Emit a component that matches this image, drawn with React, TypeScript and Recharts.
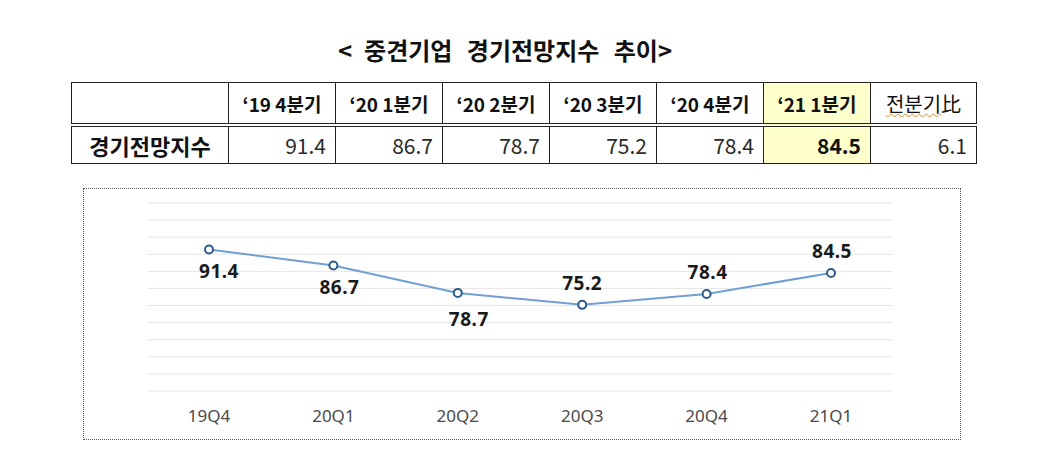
import { LineChart, Line, XAxis, YAxis, CartesianGrid } from 'recharts'

const quarters = ['19Q4', '20Q1', '20Q2', '20Q3', '20Q4', '21Q1']
const headerLabels = ['‘19 4분기', '‘20 1분기', '‘20 2분기', '‘20 3분기', '‘20 4분기', '‘21 1분기']
const indexValues = [91.4, 86.7, 78.7, 75.2, 78.4, 84.5]
const qoqChange = '6.1'
const yTicks = [50, 55, 60, 65, 70, 75, 80, 85, 90, 95, 100, 105]

const data = quarters.map((q, i) => ({ quarter: q, value: indexValues[i] }))

const font = '"Noto Sans CJK KR", "Noto Sans", sans-serif'
const numFont = '"Noto Sans", "Noto Sans CJK KR", sans-serif'
const border = '1px solid #222'

// label nudges (below for the first three points, above for the rest)
const labelDx = [10, 6, 11, 0, 1, 1]
const labelDy = [29, 28, 33, -15, -15, -15]

const renderLabel = (props: any) => {
  const { x, y, value, index } = props
  return (
    <text
      x={x + labelDx[index]}
      y={y + labelDy[index]}
      textAnchor="middle"
      fontFamily={numFont}
      fontSize={19}
      fontWeight={700}
      fill="#1a1a1a"
      letterSpacing={0.5}
    >
      {value}
    </text>
  )
}

const headCell = {
  border,
  height: 40,
  fontSize: 19,
  fontWeight: 700,
  textAlign: 'center' as const,
  padding: 0,
  color: '#111',
}

const dataCell = {
  border,
  height: 36,
  fontSize: 21,
  textAlign: 'right' as const,
  padding: '0 9px 0 0',
  color: '#2a2a2a',
}

export default function App() {
  const last = headerLabels.length - 1
  return (
    <div
      style={{
        position: 'absolute',
        left: 0,
        top: 0,
        width: 1062,
        height: 458,
        background: '#fff',
        fontFamily: font,
      }}
    >
      <div
        style={{
          position: 'absolute',
          left: 255,
          width: 500,
          top: 33,
          textAlign: 'center',
          fontSize: 24,
          fontWeight: 700,
          color: '#111',
          whiteSpace: 'pre',
          lineHeight: '34px',
        }}
      >
        <span style={{ marginRight: 12 }}>{'<'}</span>
        <span style={{ wordSpacing: 9 }}>{'중견기업 경기전망지수 추이>'}</span>
      </div>

      <table
        style={{
          position: 'absolute',
          left: 71,
          top: 82,
          width: 906,
          borderCollapse: 'collapse',
          tableLayout: 'fixed',
          fontFamily: font,
        }}
      >
        <colgroup>
          <col style={{ width: 157 }} />
          {headerLabels.map((h) => (
            <col key={h} style={{ width: 107 }} />
          ))}
          <col style={{ width: 106 }} />
        </colgroup>
        <tbody>
          <tr style={{ borderBottom: '4px double #222' }}>
            <td style={headCell}></td>
            {headerLabels.map((h, i) => (
              <td key={h} style={{ ...headCell, background: i === last ? '#ffffcc' : '#fff' }}>
                {h}
              </td>
            ))}
            <td style={{ ...headCell, fontWeight: 400, fontSize: 20 }}>
              <span style={{ textDecoration: 'underline wavy #d98a3a', textDecorationThickness: 1 }}>전분기</span>比
            </td>
          </tr>
          <tr>
            <td style={{ ...dataCell, textAlign: 'center', fontWeight: 700, fontSize: 22, padding: 0, color: '#111' }}>
              경기전망지수
            </td>
            {indexValues.map((v, i) => (
              <td
                key={i}
                style={{
                  ...dataCell,
                  background: i === last ? '#ffffcc' : '#fff',
                  fontWeight: i === last ? 700 : 400,
                  color: i === last ? '#111' : '#2a2a2a',
                }}
              >
                {v}
              </td>
            ))}
            <td style={dataCell}>{qoqChange}</td>
          </tr>
        </tbody>
      </table>

      <div
        style={{
          position: 'absolute',
          left: 83,
          top: 188,
          width: 876,
          height: 250,
          border: '1px dotted #555',
        }}
      >
        <LineChart
          width={876}
          height={250}
          data={data}
          margin={{ top: 14, right: 67, bottom: 16, left: 63 }}
        >
          <CartesianGrid horizontal vertical={false} stroke="#e6e6e6" />
          <XAxis
            dataKey="quarter"
            axisLine={false}
            tickLine={false}
            padding={{ left: 62, right: 62 }}
            height={32}
            tick={{ fill: '#4a4a4a', fontSize: 17, fontFamily: numFont }}
            tickMargin={13}
          />
          <YAxis hide domain={[50, 105]} ticks={yTicks} interval={0} />
          <Line
            type="linear"
            dataKey="value"
            stroke="#6f9fd3"
            strokeWidth={2}
            dot={{ r: 4, fill: '#fff', stroke: '#2e5b8c', strokeWidth: 2 }}
            label={renderLabel}
            isAnimationActive={false}
          />
        </LineChart>
      </div>
    </div>
  )
}
